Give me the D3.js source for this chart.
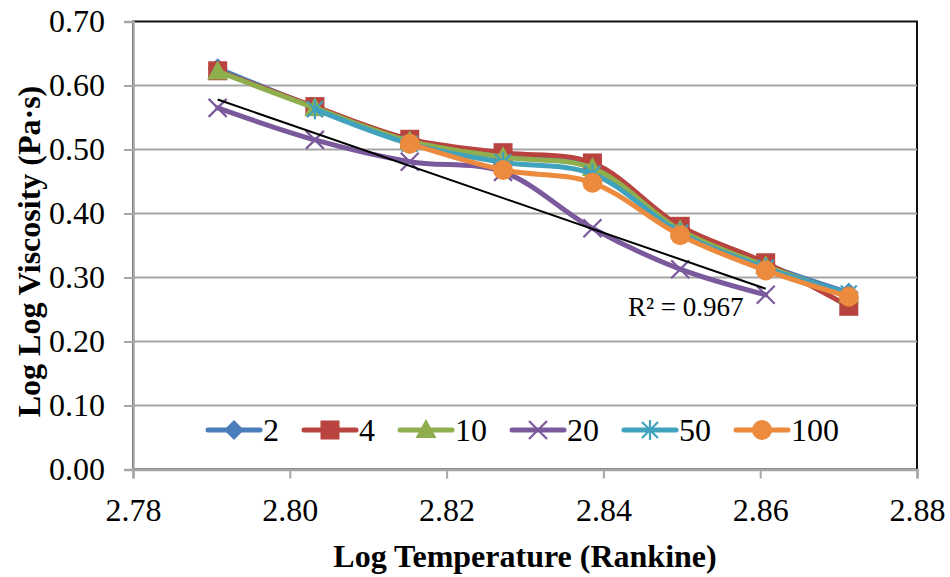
<!DOCTYPE html>
<html><head><meta charset="utf-8">
<script src="https://cdn.jsdelivr.net/npm/d3@7"></script>
<style>body{margin:0;background:#fff}svg{display:block}text{font-family:"Liberation Serif","Times New Roman",serif;fill:#000}</style>
</head><body><svg id="c" width="950" height="577"></svg>
<script>
// ---- data ----
const logT = [2.7908, 2.8032, 2.8153, 2.8272, 2.8386, 2.8498, 2.8607, 2.8713];
const s2   = [0.627, 0.566, 0.515, 0.492, 0.475, 0.377, 0.320, 0.276];
const s4   = [0.623, 0.567, 0.516, 0.495, 0.479, 0.380, 0.323, 0.255];
const s10  = [0.622, 0.565, 0.513, 0.488, 0.471, 0.374, 0.318, 0.273];
const s20  = [0.565, 0.515, 0.481, 0.465, 0.377, 0.313, 0.273, null];
const s50  = [null, 0.563, 0.509, 0.480, 0.462, 0.370, 0.315, 0.275];
const s100 = [null, null, 0.509, 0.468, 0.448, 0.366, 0.311, 0.270];
const seriesNames = ["2", "4", "10", "20", "50", "100"];
const xTicks = [2.78, 2.80, 2.82, 2.84, 2.86, 2.88];
const yTicks = [0, 0.1, 0.2, 0.3, 0.4, 0.5, 0.6, 0.7];

const series = [
  {name: seriesNames[0], vals: s2,   color: "#4A7DBA", m: "diamond"},
  {name: seriesNames[1], vals: s4,   color: "#B8433F", m: "square"},
  {name: seriesNames[2], vals: s10,  color: "#8FAE4D", m: "triangle"},
  {name: seriesNames[3], vals: s20,  color: "#7A5A9C", m: "x"},
  {name: seriesNames[4], vals: s50,  color: "#41A2BD", m: "star"},
  {name: seriesNames[5], vals: s100, color: "#EC8A3D", m: "circle"}
];

const svg = d3.select("#c");
const L = 133, R = 917, T = 21.5, B = 469.5;
const x = d3.scaleLinear().domain([2.78, 2.88]).range([L, R]);
const y = d3.scaleLinear().domain([0, 0.7]).range([B, T]);
const FONT = 32;

// plot border (black top/right)
svg.append("rect").attr("x", L).attr("y", T).attr("width", R - L).attr("height", B - T)
  .attr("fill", "none").attr("stroke", "#111").attr("stroke-width", 2);

// gridlines
svg.append("g").selectAll("line").data(yTicks.filter(d => d > 0 && d < 0.7)).join("line")
  .attr("x1", L).attr("x2", R).attr("y1", d => y(d)).attr("y2", d => y(d))
  .attr("stroke", "#A6A6A6").attr("stroke-width", 2);

// axes
const xAxis = d3.axisBottom(x).tickValues(xTicks).tickFormat(d3.format(".2f")).tickSize(9).tickPadding(20);
const gx = svg.append("g").attr("transform", `translate(0,${B})`).call(xAxis);
gx.select(".domain").attr("stroke", "#A6A6A6").attr("stroke-width", 2.5);
gx.selectAll(".tick line").attr("stroke", "#A6A6A6").attr("stroke-width", 2);
gx.selectAll(".tick text").attr("font-size", FONT).attr("font-family", "Liberation Serif").attr("fill", "#000");

const yAxis = d3.axisLeft(y).tickValues(yTicks).tickFormat(d3.format(".2f")).tickSize(9).tickPadding(19);
const gy = svg.append("g").attr("transform", `translate(${L},0)`).call(yAxis);
gy.select(".domain").attr("stroke", "#A6A6A6").attr("stroke-width", 2.5);
gy.selectAll(".tick line").attr("stroke", "#A6A6A6").attr("stroke-width", 2);
gy.selectAll(".tick text").attr("font-size", FONT).attr("font-family", "Liberation Serif").attr("fill", "#000");

// marker drawer
function marker(g, type, color) {
  if (type === "diamond") g.append("path").attr("d", "M0,-10L10,0L0,10L-10,0Z").attr("fill", color);
  else if (type === "square") g.append("rect").attr("x", -9.5).attr("y", -9.5).attr("width", 19).attr("height", 19).attr("fill", color);
  else if (type === "triangle") g.append("path").attr("d", "M0,-11L10.5,8L-10.5,8Z").attr("fill", color);
  else if (type === "circle") g.append("circle").attr("r", 10).attr("fill", color);
  else if (type === "x") g.append("path").attr("d", "M-9,-9L9,9M-9,9L9,-9").attr("stroke", color).attr("stroke-width", 2.2).attr("fill", "none");
  else if (type === "star") g.append("path").attr("d", "M-8,-8L8,8M-8,8L8,-8M0,-10L0,10").attr("stroke", color).attr("stroke-width", 2.2).attr("fill", "none");
}

const line = d3.line().defined(d => d[1] != null)
  .x(d => x(d[0])).y(d => y(d[1])).curve(d3.curveCatmullRom.alpha(0.5));

series.forEach(s => {
  const pts = logT.map((t, i) => [t, s.vals[i]]);
  const g = svg.append("g");
  g.append("path").attr("d", line(pts)).attr("fill", "none")
    .attr("stroke", s.color).attr("stroke-width", 5).attr("stroke-linejoin", "round").attr("stroke-linecap", "round");
  pts.filter(p => p[1] != null).forEach(p => {
    marker(g.append("g").attr("transform", `translate(${x(p[0])},${y(p[1])})`), s.m, s.color);
  });
});

// linear trendline for series "20"
const tp = logT.map((t, i) => [t, s20[i]]).filter(p => p[1] != null);
const mx = d3.mean(tp, p => p[0]), my = d3.mean(tp, p => p[1]);
const sxy = d3.sum(tp, p => (p[0] - mx) * (p[1] - my));
const sxx = d3.sum(tp, p => (p[0] - mx) ** 2);
const syy = d3.sum(tp, p => (p[1] - my) ** 2);
const slope = sxy / sxx, icpt = my - slope * mx;
const r2 = sxy * sxy / (sxx * syy);
const x0 = d3.min(tp, p => p[0]), x1 = d3.max(tp, p => p[0]);
svg.append("line").attr("x1", x(x0)).attr("y1", y(icpt + slope * x0))
  .attr("x2", x(x1)).attr("y2", y(icpt + slope * x1))
  .attr("stroke", "#000").attr("stroke-width", 2);
svg.append("text").attr("x", 628).attr("y", 316).attr("font-size", 27)
  .text(`R² = ${r2.toFixed(3)}`);

// legend
const lg = svg.append("g").attr("transform", "translate(208,430)");
let lx = 0;
series.forEach(s => {
  const g = lg.append("g").attr("transform", `translate(${lx},0)`);
  g.append("line").attr("x1", 0).attr("x2", 52).attr("y1", 0).attr("y2", 0)
    .attr("stroke", s.color).attr("stroke-width", 5).attr("stroke-linecap", "round");
  marker(g.append("g").attr("transform", "translate(26,0)"), s.m, s.color);
  const t = g.append("text").attr("x", 55).attr("y", 11).attr("font-size", FONT).text(s.name);
  lx += 55 + t.node().getComputedTextLength() + 25;
});

// axis titles
svg.append("text").attr("x", 525).attr("y", 567).attr("text-anchor", "middle")
  .attr("font-size", FONT).attr("font-weight", "bold").text("Log Temperature (Rankine)");
svg.append("text").attr("transform", `translate(40,${(T + B) / 2 + 6}) rotate(-90)`).attr("text-anchor", "middle")
  .attr("font-size", FONT).attr("font-weight", "bold").text("Log Log Viscosity (Pa·s)");
</script></body></html>
